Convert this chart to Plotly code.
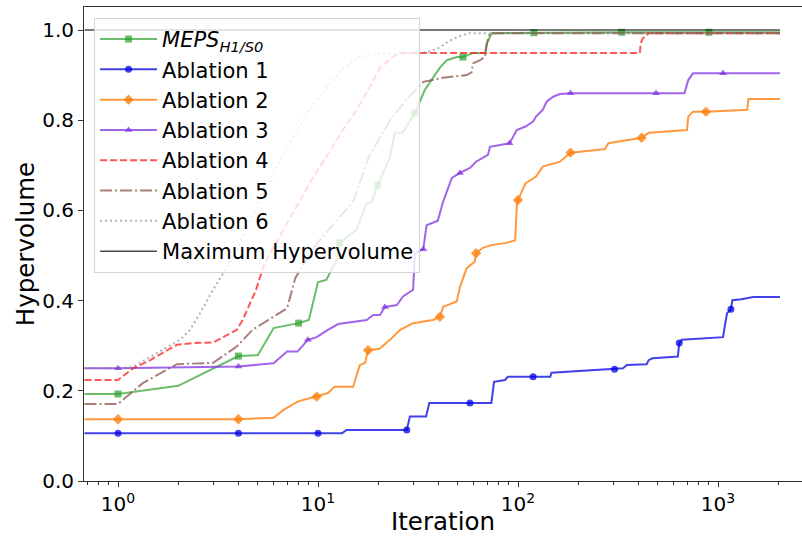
import numpy as np
import plotly.graph_objects as go

# ---------------- data: best hypervolume found vs. iteration ----------------
meps_iter = [0.68, 1, 2, 4, 5, 6, 8, 9, 10, 11,
             12.4, 12.8, 15.6, 17.5, 18.5, 19.9, 22.9, 24.2, 26.5, 30.5,
             34.2, 37.6, 40.6, 44, 49.5, 53, 59.5, 68.4, 70, 74,
             120, 330, 900, 2040]
meps_hv = [0.193, 0.193, 0.211, 0.277, 0.279, 0.339, 0.350, 0.357, 0.441, 0.446,
           0.490, 0.528, 0.557, 0.616, 0.618, 0.656, 0.718, 0.772, 0.772, 0.816,
           0.867, 0.894, 0.916, 0.933, 0.940, 0.940, 0.949, 0.949, 0.971, 0.993,
           0.994, 0.995, 0.995, 0.995]
meps_marks = [1, 4, 8, 12.8, 19.9, 30.5, 53, 120, 330, 900]

abl1_iter = [0.68, 1, 4, 10, 13.2, 13.9, 27.8, 28.8, 34.7, 36,
             57.5, 73.6, 75.9, 86, 89, 119, 145, 147, 219, 304,
             335, 350, 440, 450, 470, 630, 640, 660, 1060, 1080,
             1110, 1160, 1180, 1310, 1500, 2040]
abl1_hv = [0.106, 0.106, 0.106, 0.106, 0.106, 0.113, 0.113, 0.143, 0.143, 0.173,
           0.173, 0.173, 0.220, 0.224, 0.231, 0.231, 0.231, 0.240, 0.245, 0.248,
           0.250, 0.257, 0.259, 0.268, 0.272, 0.276, 0.306, 0.313, 0.319, 0.342,
           0.372, 0.381, 0.401, 0.403, 0.408, 0.408]
abl1_marks = [1, 4, 10, 27.8, 57.5, 119, 304, 640, 1160]

abl2_iter = [0.68, 1, 4, 6, 6.7, 7.9, 9.85, 11.2, 12.1, 15,
             15.6, 16.2, 17.2, 17.8, 20.3, 22.9, 25.7, 29.9, 37.6, 40.7,
             42.2, 49.4, 51.3, 55.4, 60.7, 61.7, 66.7, 73.6, 87.7, 96.8,
             98.8, 100, 109, 123, 133, 162, 183, 272, 283, 415,
             450, 700, 710, 750, 870, 1400, 1420, 2040]
abl2_hv = [0.137, 0.137, 0.137, 0.140, 0.157, 0.176, 0.187, 0.195, 0.209, 0.209,
           0.235, 0.257, 0.262, 0.290, 0.293, 0.313, 0.335, 0.350, 0.357, 0.364,
           0.386, 0.398, 0.431, 0.472, 0.486, 0.505, 0.517, 0.523, 0.528, 0.534,
           0.616, 0.623, 0.660, 0.675, 0.697, 0.708, 0.728, 0.736, 0.749, 0.761,
           0.772, 0.778, 0.808, 0.819, 0.819, 0.823, 0.847, 0.847]
abl2_marks = [1, 4, 9.85, 17.8, 40.7, 61.7, 100, 183, 415, 870]

abl3_iter = [0.68, 1, 4, 6, 7, 7.9, 8.9, 9.85, 11.2, 12.6,
             17.5, 18.9, 20.4, 21.6, 24.8, 26.6, 29.9, 30.5, 33.6, 34.9,
             39.7, 42.2, 46.7, 51.3, 57.5, 61.7, 70.7, 72.4, 90.8, 98.6,
             109, 119, 123, 133, 139, 150, 162, 183, 490, 680,
             710, 750, 1060, 2040]
abl3_hv = [0.250, 0.250, 0.254, 0.261, 0.287, 0.287, 0.313, 0.319, 0.335, 0.348,
           0.357, 0.368, 0.368, 0.386, 0.390, 0.409, 0.424, 0.505, 0.514, 0.567,
           0.577, 0.619, 0.672, 0.683, 0.694, 0.708, 0.723, 0.741, 0.749, 0.778,
           0.786, 0.797, 0.808, 0.823, 0.841, 0.852, 0.858, 0.860, 0.860, 0.860,
           0.889, 0.904, 0.904, 0.904]
abl3_marks = [1, 4, 8.9, 21.6, 33.6, 51.3, 90.8, 183, 490, 1060]

abl4_iter = [0.68, 1, 1.19, 1.45, 1.97, 2.37, 2.99, 3.92, 4.2, 4.9,
             5.4, 7, 9.5, 11, 13.3, 15.6, 18.2, 20.4, 23.7, 26,
             407, 410, 420, 450, 2040]
abl4_hv = [0.224, 0.224, 0.250, 0.268, 0.302, 0.306, 0.307, 0.335, 0.357, 0.424,
           0.483, 0.572, 0.675, 0.719, 0.778, 0.823, 0.874, 0.916, 0.941, 0.949,
           0.949, 0.970, 0.981, 0.993, 0.993]

abl5_iter = [0.68, 1, 1.33, 1.97, 2.99, 3.92, 4.7, 7, 7.7, 9,
             10, 12, 15, 18, 22.9, 28.5, 33.6, 42, 49.4, 55.4,
             58.6, 59.5, 64.6, 68.4, 69.8, 72.4, 2040]
abl5_hv = [0.171, 0.171, 0.217, 0.259, 0.262, 0.298, 0.335, 0.383, 0.450, 0.500,
           0.530, 0.570, 0.620, 0.720, 0.800, 0.852, 0.885, 0.894, 0.897, 0.900,
           0.906, 0.926, 0.933, 0.941, 0.970, 0.993, 0.993]

abl6_iter = [0.68, 1, 1.19, 2.04, 2.29, 2.57, 2.99, 3.35, 3.76, 4.5,
             5.5, 7, 9, 11, 13, 16, 20, 35, 40, 45,
             50, 57, 2040]
abl6_hv = [0.250, 0.250, 0.253, 0.313, 0.335, 0.372, 0.424, 0.461, 0.497, 0.570,
           0.650, 0.740, 0.820, 0.870, 0.910, 0.940, 0.948, 0.950, 0.960, 0.975,
           0.985, 0.993, 0.993]

max_iter = [0.68, 2040]
max_hv = [1.0, 1.0]

x_tick_vals = [1, 10, 100, 1000]
x_tick_text = ["10<sup>0</sup>", "10<sup>1</sup>", "10<sup>2</sup>", "10<sup>3</sup>"]
y_tick_vals = [0.0, 0.2, 0.4, 0.6, 0.8, 1.0]
y_tick_text = ["0.0", "0.2", "0.4", "0.6", "0.8", "1.0"]

FONT = "DejaVu Sans"

series = [
    dict(name="<i>MEPS<sub>H1/S0</sub></i>", x=meps_iter, y=meps_hv, marks=meps_marks,
         color="rgba(44,160,44,0.7)", dash="solid", symbol="square", msize=7),
    dict(name="Ablation 1", x=abl1_iter, y=abl1_hv, marks=abl1_marks,
         color="rgba(0,0,230,0.75)", dash="solid", symbol="circle", msize=7),
    dict(name="Ablation 2", x=abl2_iter, y=abl2_hv, marks=abl2_marks,
         color="rgba(255,127,14,0.8)", dash="solid", symbol="diamond", msize=8),
    dict(name="Ablation 3", x=abl3_iter, y=abl3_hv, marks=abl3_marks,
         color="rgba(130,50,225,0.75)", dash="solid", symbol="triangle-up", msize=7),
    dict(name="Ablation 4", x=abl4_iter, y=abl4_hv, marks=None,
         color="rgba(255,30,30,0.75)", dash="7px,3px", symbol=None, msize=0),
    dict(name="Ablation 5", x=abl5_iter, y=abl5_hv, marks=None,
         color="rgba(140,86,75,0.75)", dash="12px,3px,2px,3px", symbol=None, msize=0),
    dict(name="Ablation 6", x=abl6_iter, y=abl6_hv, marks=None,
         color="rgba(127,127,127,0.6)", dash="2px,3px", symbol=None, msize=0),
    dict(name="Maximum Hypervolume", x=max_iter, y=max_hv, marks=None,
         color="rgba(0,0,0,0.7)", dash="solid", symbol=None, msize=0, width=1.5),
]

fig = go.Figure()

for s in series:
    lw = s.get("width", 2)
    fig.add_trace(go.Scatter(
        x=s["x"], y=s["y"], mode="lines", showlegend=False,
        legendgroup=s["name"], hoverinfo="skip",
        line=dict(color=s["color"], width=lw, dash=s["dash"]),
    ))
    if s["marks"]:
        mx = [xv for xv in s["x"] if xv in s["marks"]]
        my = [yv for xv, yv in zip(s["x"], s["y"]) if xv in s["marks"]]
        fig.add_trace(go.Scatter(
            x=mx, y=my, mode="markers", showlegend=False,
            legendgroup=s["name"], hoverinfo="skip",
            marker=dict(symbol=s["symbol"], size=s["msize"], color=s["color"],
                        line=dict(width=0)),
        ))

# legend entries (one per series, in plotting order)
for s in series:
    lw = s.get("width", 2)
    entry = dict(x=[None], y=[None], name=s["name"], legendgroup=s["name"],
                 line=dict(color=s["color"], width=lw, dash=s["dash"]))
    if s["marks"]:
        entry.update(mode="lines+markers",
                     marker=dict(symbol=s["symbol"], size=s["msize"], color=s["color"]))
    else:
        entry.update(mode="lines")
    fig.add_trace(go.Scatter(**entry))

minor_vals = [m * 10 ** k for k in range(-1, 4) for m in range(2, 10)]
minor_vals = [v for v in minor_vals if 0.676 <= v <= 2600]

fig.update_layout(
    width=802, height=536,
    margin=dict(l=84, r=0, t=7, b=55),
    paper_bgcolor="white", plot_bgcolor="white",
    font=dict(family=FONT, size=20, color="black"),
    legend=dict(
        x=0.014, y=0.977, xanchor="left", yanchor="top",
        bgcolor="rgba(255,255,255,0.8)", bordercolor="#d4d4d4", borderwidth=1,
        font=dict(family=FONT, size=21, color="black"),
        itemwidth=57, tracegroupgap=0,
    ),
    xaxis=dict(
        type="log", range=[np.log10(0.676), 3.42],
        showline=True, linecolor="#333", linewidth=1, mirror=True,
        showgrid=False, zeroline=False,
        ticks="outside", ticklen=5, tickcolor="#333", tickwidth=1,
        tickmode="array", tickvals=x_tick_vals, ticktext=x_tick_text,
        tickfont=dict(family=FONT, size=20, color="black"),
        minor=dict(ticks="outside", ticklen=3, tickcolor="#333",
                   tickmode="array", tickvals=minor_vals, showgrid=False),
        title=dict(text="Iteration", font=dict(family=FONT, size=24.5, color="black"),
                   standoff=3),
    ),
    yaxis=dict(
        range=[0, 1.051],
        showline=True, linecolor="#333", linewidth=1, mirror=False,
        showgrid=False, zeroline=False,
        ticks="outside", ticklen=5, tickcolor="#333", tickwidth=1,
        tickmode="array", tickvals=y_tick_vals, ticktext=y_tick_text,
        tickfont=dict(family=FONT, size=20, color="black"),
        title=dict(text="Hypervolume", font=dict(family=FONT, size=24.5, color="black"),
                   standoff=0),
    ),
)

fig.write_html("out.html")
